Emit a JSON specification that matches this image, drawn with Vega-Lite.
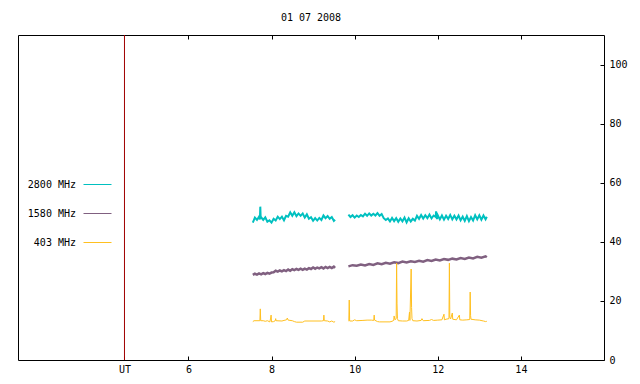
{
  "$schema": "https://vega.github.io/schema/vega-lite/v6.json",
  "width": 586,
  "height": 325,
  "autosize": {"type": "none"},
  "padding": {"left": 18, "top": 35, "right": 36, "bottom": 24},
  "background": "white",
  "title": {"text": "01 07 2008", "font": "DejaVu Sans Mono", "fontSize": 10, "fontWeight": "normal", "color": "black", "offset": 12},
  "config": {
    "view": {"stroke": "black", "strokeWidth": 1},
    "font": "DejaVu Sans Mono",
    "axis": {"labelFont": "DejaVu Sans Mono", "labelFontSize": 10, "labelColor": "black", "tickColor": "black", "grid": false, "domain": false, "title": null}
  },
  "datasets": {
    "ut": [{"t": 4.462}],
    "lines": [
      {"s": "2800", "g": 1, "t": 7.55, "v": 46.5}, {"s": "2800", "g": 1, "t": 7.60, "v": 48.2}, {"s": "2800", "g": 1, "t": 7.65, "v": 47.4}, {"s": "2800", "g": 1, "t": 7.70, "v": 48.5}, {"s": "2800", "g": 1, "t": 7.72, "v": 47.6}, {"s": "2800", "g": 1, "t": 7.73, "v": 51.9}, {"s": "2800", "g": 1, "t": 7.74, "v": 47.8}, {"s": "2800", "g": 1, "t": 7.75, "v": 48.3}, {"s": "2800", "g": 1, "t": 7.80, "v": 47.4}, {"s": "2800", "g": 1, "t": 7.85, "v": 48.3}, {"s": "2800", "g": 1, "t": 7.90, "v": 46.8}, {"s": "2800", "g": 1, "t": 7.95, "v": 47.3}, {"s": "2800", "g": 1, "t": 8.00, "v": 46.5}, {"s": "2800", "g": 1, "t": 8.05, "v": 47.8}, {"s": "2800", "g": 1, "t": 8.10, "v": 47.2}, {"s": "2800", "g": 1, "t": 8.15, "v": 48.5}, {"s": "2800", "g": 1, "t": 8.20, "v": 47.7}, {"s": "2800", "g": 1, "t": 8.25, "v": 48.5}, {"s": "2800", "g": 1, "t": 8.30, "v": 47.3}, {"s": "2800", "g": 1, "t": 8.35, "v": 48.8}, {"s": "2800", "g": 1, "t": 8.40, "v": 48.5}, {"s": "2800", "g": 1, "t": 8.45, "v": 50.0}, {"s": "2800", "g": 1, "t": 8.50, "v": 48.8}, {"s": "2800", "g": 1, "t": 8.55, "v": 50.0}, {"s": "2800", "g": 1, "t": 8.60, "v": 48.7}, {"s": "2800", "g": 1, "t": 8.65, "v": 49.6}, {"s": "2800", "g": 1, "t": 8.70, "v": 48.8}, {"s": "2800", "g": 1, "t": 8.75, "v": 49.6}, {"s": "2800", "g": 1, "t": 8.80, "v": 48.2}, {"s": "2800", "g": 1, "t": 8.85, "v": 49.3}, {"s": "2800", "g": 1, "t": 8.90, "v": 47.8}, {"s": "2800", "g": 1, "t": 8.95, "v": 48.3}, {"s": "2800", "g": 1, "t": 9.00, "v": 47.1}, {"s": "2800", "g": 1, "t": 9.05, "v": 48.0}, {"s": "2800", "g": 1, "t": 9.10, "v": 47.2}, {"s": "2800", "g": 1, "t": 9.15, "v": 48.1}, {"s": "2800", "g": 1, "t": 9.20, "v": 47.4}, {"s": "2800", "g": 1, "t": 9.25, "v": 48.9}, {"s": "2800", "g": 1, "t": 9.30, "v": 48.0}, {"s": "2800", "g": 1, "t": 9.35, "v": 48.7}, {"s": "2800", "g": 1, "t": 9.40, "v": 47.8}, {"s": "2800", "g": 1, "t": 9.45, "v": 48.4}, {"s": "2800", "g": 1, "t": 9.50, "v": 47.1}, {"s": "2800", "g": 1, "t": 9.53, "v": 47.5},
      {"s": "2800", "g": 2, "t": 9.85, "v": 49.2}, {"s": "2800", "g": 2, "t": 9.90, "v": 48.4}, {"s": "2800", "g": 2, "t": 9.95, "v": 49.0}, {"s": "2800", "g": 2, "t": 10.00, "v": 48.2}, {"s": "2800", "g": 2, "t": 10.05, "v": 48.9}, {"s": "2800", "g": 2, "t": 10.10, "v": 48.4}, {"s": "2800", "g": 2, "t": 10.15, "v": 49.1}, {"s": "2800", "g": 2, "t": 10.20, "v": 48.6}, {"s": "2800", "g": 2, "t": 10.25, "v": 49.5}, {"s": "2800", "g": 2, "t": 10.30, "v": 48.8}, {"s": "2800", "g": 2, "t": 10.35, "v": 49.6}, {"s": "2800", "g": 2, "t": 10.40, "v": 48.9}, {"s": "2800", "g": 2, "t": 10.45, "v": 49.5}, {"s": "2800", "g": 2, "t": 10.50, "v": 48.9}, {"s": "2800", "g": 2, "t": 10.55, "v": 49.7}, {"s": "2800", "g": 2, "t": 10.60, "v": 48.8}, {"s": "2800", "g": 2, "t": 10.65, "v": 49.4}, {"s": "2800", "g": 2, "t": 10.70, "v": 48.0}, {"s": "2800", "g": 2, "t": 10.75, "v": 47.4}, {"s": "2800", "g": 2, "t": 10.80, "v": 47.9}, {"s": "2800", "g": 2, "t": 10.85, "v": 46.9}, {"s": "2800", "g": 2, "t": 10.90, "v": 48.1}, {"s": "2800", "g": 2, "t": 10.95, "v": 47.0}, {"s": "2800", "g": 2, "t": 11.00, "v": 48.0}, {"s": "2800", "g": 2, "t": 11.05, "v": 46.8}, {"s": "2800", "g": 2, "t": 11.10, "v": 47.9}, {"s": "2800", "g": 2, "t": 11.15, "v": 46.9}, {"s": "2800", "g": 2, "t": 11.20, "v": 48.2}, {"s": "2800", "g": 2, "t": 11.25, "v": 46.6}, {"s": "2800", "g": 2, "t": 11.30, "v": 48.0}, {"s": "2800", "g": 2, "t": 11.35, "v": 46.9}, {"s": "2800", "g": 2, "t": 11.40, "v": 47.8}, {"s": "2800", "g": 2, "t": 11.45, "v": 47.2}, {"s": "2800", "g": 2, "t": 11.50, "v": 48.8}, {"s": "2800", "g": 2, "t": 11.55, "v": 47.8}, {"s": "2800", "g": 2, "t": 11.60, "v": 49.1}, {"s": "2800", "g": 2, "t": 11.65, "v": 47.9}, {"s": "2800", "g": 2, "t": 11.70, "v": 49.0}, {"s": "2800", "g": 2, "t": 11.75, "v": 48.0}, {"s": "2800", "g": 2, "t": 11.80, "v": 49.2}, {"s": "2800", "g": 2, "t": 11.85, "v": 47.9}, {"s": "2800", "g": 2, "t": 11.90, "v": 48.9}, {"s": "2800", "g": 2, "t": 11.95, "v": 48.4}, {"s": "2800", "g": 2, "t": 11.96, "v": 50.3}, {"s": "2800", "g": 2, "t": 11.98, "v": 47.7}, {"s": "2800", "g": 2, "t": 12.00, "v": 49.0}, {"s": "2800", "g": 2, "t": 12.05, "v": 47.6}, {"s": "2800", "g": 2, "t": 12.10, "v": 48.9}, {"s": "2800", "g": 2, "t": 12.15, "v": 47.5}, {"s": "2800", "g": 2, "t": 12.20, "v": 48.8}, {"s": "2800", "g": 2, "t": 12.25, "v": 47.7}, {"s": "2800", "g": 2, "t": 12.30, "v": 49.1}, {"s": "2800", "g": 2, "t": 12.35, "v": 47.6}, {"s": "2800", "g": 2, "t": 12.40, "v": 48.8}, {"s": "2800", "g": 2, "t": 12.45, "v": 47.6}, {"s": "2800", "g": 2, "t": 12.50, "v": 48.9}, {"s": "2800", "g": 2, "t": 12.55, "v": 47.3}, {"s": "2800", "g": 2, "t": 12.60, "v": 48.5}, {"s": "2800", "g": 2, "t": 12.65, "v": 47.1}, {"s": "2800", "g": 2, "t": 12.70, "v": 48.7}, {"s": "2800", "g": 2, "t": 12.75, "v": 47.0}, {"s": "2800", "g": 2, "t": 12.80, "v": 48.4}, {"s": "2800", "g": 2, "t": 12.85, "v": 47.2}, {"s": "2800", "g": 2, "t": 12.90, "v": 49.0}, {"s": "2800", "g": 2, "t": 12.95, "v": 47.6}, {"s": "2800", "g": 2, "t": 13.00, "v": 49.0}, {"s": "2800", "g": 2, "t": 13.05, "v": 47.5}, {"s": "2800", "g": 2, "t": 13.10, "v": 48.9}, {"s": "2800", "g": 2, "t": 13.15, "v": 47.6}, {"s": "2800", "g": 2, "t": 13.18, "v": 48.5},
      {"s": "1580", "g": 1, "t": 7.55, "v": 28.8}, {"s": "1580", "g": 1, "t": 7.60, "v": 29.2}, {"s": "1580", "g": 1, "t": 7.65, "v": 28.9}, {"s": "1580", "g": 1, "t": 7.70, "v": 29.3}, {"s": "1580", "g": 1, "t": 7.75, "v": 29.0}, {"s": "1580", "g": 1, "t": 7.80, "v": 29.4}, {"s": "1580", "g": 1, "t": 7.85, "v": 29.1}, {"s": "1580", "g": 1, "t": 7.90, "v": 29.5}, {"s": "1580", "g": 1, "t": 7.95, "v": 29.2}, {"s": "1580", "g": 1, "t": 8.00, "v": 29.6}, {"s": "1580", "g": 1, "t": 8.05, "v": 29.7}, {"s": "1580", "g": 1, "t": 8.10, "v": 30.2}, {"s": "1580", "g": 1, "t": 8.15, "v": 29.9}, {"s": "1580", "g": 1, "t": 8.20, "v": 30.3}, {"s": "1580", "g": 1, "t": 8.25, "v": 30.0}, {"s": "1580", "g": 1, "t": 8.30, "v": 30.4}, {"s": "1580", "g": 1, "t": 8.35, "v": 30.1}, {"s": "1580", "g": 1, "t": 8.40, "v": 30.6}, {"s": "1580", "g": 1, "t": 8.45, "v": 30.2}, {"s": "1580", "g": 1, "t": 8.50, "v": 30.7}, {"s": "1580", "g": 1, "t": 8.55, "v": 30.4}, {"s": "1580", "g": 1, "t": 8.60, "v": 30.8}, {"s": "1580", "g": 1, "t": 8.65, "v": 30.5}, {"s": "1580", "g": 1, "t": 8.70, "v": 30.9}, {"s": "1580", "g": 1, "t": 8.75, "v": 30.5}, {"s": "1580", "g": 1, "t": 8.80, "v": 30.9}, {"s": "1580", "g": 1, "t": 8.85, "v": 30.6}, {"s": "1580", "g": 1, "t": 8.90, "v": 31.1}, {"s": "1580", "g": 1, "t": 8.95, "v": 30.8}, {"s": "1580", "g": 1, "t": 9.00, "v": 31.3}, {"s": "1580", "g": 1, "t": 9.05, "v": 30.9}, {"s": "1580", "g": 1, "t": 9.10, "v": 31.3}, {"s": "1580", "g": 1, "t": 9.15, "v": 31.0}, {"s": "1580", "g": 1, "t": 9.20, "v": 31.4}, {"s": "1580", "g": 1, "t": 9.25, "v": 31.0}, {"s": "1580", "g": 1, "t": 9.30, "v": 31.5}, {"s": "1580", "g": 1, "t": 9.35, "v": 31.1}, {"s": "1580", "g": 1, "t": 9.40, "v": 31.5}, {"s": "1580", "g": 1, "t": 9.45, "v": 31.1}, {"s": "1580", "g": 1, "t": 9.50, "v": 31.6}, {"s": "1580", "g": 1, "t": 9.53, "v": 31.2},
      {"s": "1580", "g": 2, "t": 9.85, "v": 31.7}, {"s": "1580", "g": 2, "t": 9.95, "v": 32.1}, {"s": "1580", "g": 2, "t": 10.05, "v": 31.9}, {"s": "1580", "g": 2, "t": 10.15, "v": 32.3}, {"s": "1580", "g": 2, "t": 10.25, "v": 32.0}, {"s": "1580", "g": 2, "t": 10.35, "v": 32.5}, {"s": "1580", "g": 2, "t": 10.45, "v": 32.2}, {"s": "1580", "g": 2, "t": 10.55, "v": 32.7}, {"s": "1580", "g": 2, "t": 10.65, "v": 32.4}, {"s": "1580", "g": 2, "t": 10.75, "v": 32.9}, {"s": "1580", "g": 2, "t": 10.85, "v": 32.6}, {"s": "1580", "g": 2, "t": 10.95, "v": 33.1}, {"s": "1580", "g": 2, "t": 11.05, "v": 32.8}, {"s": "1580", "g": 2, "t": 11.15, "v": 33.3}, {"s": "1580", "g": 2, "t": 11.25, "v": 33.0}, {"s": "1580", "g": 2, "t": 11.35, "v": 33.4}, {"s": "1580", "g": 2, "t": 11.45, "v": 33.2}, {"s": "1580", "g": 2, "t": 11.55, "v": 33.6}, {"s": "1580", "g": 2, "t": 11.65, "v": 33.3}, {"s": "1580", "g": 2, "t": 11.75, "v": 33.8}, {"s": "1580", "g": 2, "t": 11.85, "v": 33.5}, {"s": "1580", "g": 2, "t": 11.95, "v": 34.0}, {"s": "1580", "g": 2, "t": 12.05, "v": 33.7}, {"s": "1580", "g": 2, "t": 12.15, "v": 34.2}, {"s": "1580", "g": 2, "t": 12.25, "v": 33.9}, {"s": "1580", "g": 2, "t": 12.35, "v": 34.3}, {"s": "1580", "g": 2, "t": 12.45, "v": 34.0}, {"s": "1580", "g": 2, "t": 12.55, "v": 34.5}, {"s": "1580", "g": 2, "t": 12.65, "v": 34.2}, {"s": "1580", "g": 2, "t": 12.75, "v": 34.7}, {"s": "1580", "g": 2, "t": 12.85, "v": 34.4}, {"s": "1580", "g": 2, "t": 12.95, "v": 34.9}, {"s": "1580", "g": 2, "t": 13.05, "v": 34.6}, {"s": "1580", "g": 2, "t": 13.15, "v": 35.1}, {"s": "1580", "g": 2, "t": 13.18, "v": 34.8},
      {"s": "403", "g": 1, "t": 7.55, "v": 13.0}, {"s": "403", "g": 1, "t": 7.58, "v": 13.3}, {"s": "403", "g": 1, "t": 7.72, "v": 13.3}, {"s": "403", "g": 1, "t": 7.73, "v": 17.3}, {"s": "403", "g": 1, "t": 7.74, "v": 13.3}, {"s": "403", "g": 1, "t": 7.80, "v": 13.3}, {"s": "403", "g": 1, "t": 7.85, "v": 13.1}, {"s": "403", "g": 1, "t": 7.90, "v": 13.3}, {"s": "403", "g": 1, "t": 7.96, "v": 12.9}, {"s": "403", "g": 1, "t": 7.98, "v": 14.2}, {"s": "403", "g": 1, "t": 7.99, "v": 15.2}, {"s": "403", "g": 1, "t": 8.00, "v": 12.9}, {"s": "403", "g": 1, "t": 8.05, "v": 13.0}, {"s": "403", "g": 1, "t": 8.09, "v": 13.3}, {"s": "403", "g": 1, "t": 8.10, "v": 14.0}, {"s": "403", "g": 1, "t": 8.11, "v": 13.3}, {"s": "403", "g": 1, "t": 8.25, "v": 13.2}, {"s": "403", "g": 1, "t": 8.30, "v": 13.4}, {"s": "403", "g": 1, "t": 8.36, "v": 13.6}, {"s": "403", "g": 1, "t": 8.38, "v": 14.2}, {"s": "403", "g": 1, "t": 8.40, "v": 13.5}, {"s": "403", "g": 1, "t": 8.50, "v": 13.3}, {"s": "403", "g": 1, "t": 8.55, "v": 13.0}, {"s": "403", "g": 1, "t": 8.60, "v": 12.8}, {"s": "403", "g": 1, "t": 8.75, "v": 12.8}, {"s": "403", "g": 1, "t": 8.80, "v": 13.2}, {"s": "403", "g": 1, "t": 9.20, "v": 13.2}, {"s": "403", "g": 1, "t": 9.25, "v": 13.3}, {"s": "403", "g": 1, "t": 9.26, "v": 15.2}, {"s": "403", "g": 1, "t": 9.27, "v": 13.3}, {"s": "403", "g": 1, "t": 9.35, "v": 13.2}, {"s": "403", "g": 1, "t": 9.40, "v": 12.9}, {"s": "403", "g": 1, "t": 9.45, "v": 13.2}, {"s": "403", "g": 1, "t": 9.50, "v": 12.8}, {"s": "403", "g": 1, "t": 9.53, "v": 13.0},
      {"s": "403", "g": 2, "t": 9.85, "v": 13.2}, {"s": "403", "g": 2, "t": 9.86, "v": 13.3}, {"s": "403", "g": 2, "t": 9.87, "v": 20.3}, {"s": "403", "g": 2, "t": 9.88, "v": 13.2}, {"s": "403", "g": 2, "t": 9.95, "v": 13.2}, {"s": "403", "g": 2, "t": 10.00, "v": 13.6}, {"s": "403", "g": 2, "t": 10.05, "v": 13.3}, {"s": "403", "g": 2, "t": 10.20, "v": 13.4}, {"s": "403", "g": 2, "t": 10.30, "v": 13.5}, {"s": "403", "g": 2, "t": 10.40, "v": 13.5}, {"s": "403", "g": 2, "t": 10.46, "v": 13.4}, {"s": "403", "g": 2, "t": 10.47, "v": 15.2}, {"s": "403", "g": 2, "t": 10.48, "v": 13.5}, {"s": "403", "g": 2, "t": 10.55, "v": 13.0}, {"s": "403", "g": 2, "t": 10.60, "v": 12.9}, {"s": "403", "g": 2, "t": 10.85, "v": 12.9}, {"s": "403", "g": 2, "t": 10.90, "v": 13.1}, {"s": "403", "g": 2, "t": 10.94, "v": 13.4}, {"s": "403", "g": 2, "t": 10.95, "v": 14.9}, {"s": "403", "g": 2, "t": 10.97, "v": 13.6}, {"s": "403", "g": 2, "t": 10.99, "v": 13.8}, {"s": "403", "g": 2, "t": 11.00, "v": 14.2}, {"s": "403", "g": 2, "t": 11.01, "v": 32.8}, {"s": "403", "g": 2, "t": 11.02, "v": 19.0}, {"s": "403", "g": 2, "t": 11.03, "v": 14.0}, {"s": "403", "g": 2, "t": 11.05, "v": 13.3}, {"s": "403", "g": 2, "t": 11.15, "v": 13.2}, {"s": "403", "g": 2, "t": 11.25, "v": 13.2}, {"s": "403", "g": 2, "t": 11.30, "v": 13.4}, {"s": "403", "g": 2, "t": 11.32, "v": 16.2}, {"s": "403", "g": 2, "t": 11.33, "v": 13.4}, {"s": "403", "g": 2, "t": 11.36, "v": 30.8}, {"s": "403", "g": 2, "t": 11.37, "v": 17.8}, {"s": "403", "g": 2, "t": 11.38, "v": 14.0}, {"s": "403", "g": 2, "t": 11.40, "v": 13.3}, {"s": "403", "g": 2, "t": 11.50, "v": 13.2}, {"s": "403", "g": 2, "t": 11.60, "v": 13.4}, {"s": "403", "g": 2, "t": 11.62, "v": 14.0}, {"s": "403", "g": 2, "t": 11.65, "v": 13.3}, {"s": "403", "g": 2, "t": 11.80, "v": 13.4}, {"s": "403", "g": 2, "t": 11.85, "v": 13.7}, {"s": "403", "g": 2, "t": 11.90, "v": 13.4}, {"s": "403", "g": 2, "t": 12.00, "v": 13.5}, {"s": "403", "g": 2, "t": 12.10, "v": 13.6}, {"s": "403", "g": 2, "t": 12.15, "v": 15.5}, {"s": "403", "g": 2, "t": 12.16, "v": 13.6}, {"s": "403", "g": 2, "t": 12.20, "v": 13.8}, {"s": "403", "g": 2, "t": 12.27, "v": 14.0}, {"s": "403", "g": 2, "t": 12.28, "v": 32.8}, {"s": "403", "g": 2, "t": 12.29, "v": 14.5}, {"s": "403", "g": 2, "t": 12.31, "v": 13.9}, {"s": "403", "g": 2, "t": 12.35, "v": 15.9}, {"s": "403", "g": 2, "t": 12.36, "v": 13.8}, {"s": "403", "g": 2, "t": 12.45, "v": 13.6}, {"s": "403", "g": 2, "t": 12.52, "v": 15.2}, {"s": "403", "g": 2, "t": 12.53, "v": 13.6}, {"s": "403", "g": 2, "t": 12.60, "v": 13.5}, {"s": "403", "g": 2, "t": 12.70, "v": 13.6}, {"s": "403", "g": 2, "t": 12.77, "v": 13.7}, {"s": "403", "g": 2, "t": 12.78, "v": 23.0}, {"s": "403", "g": 2, "t": 12.79, "v": 15.0}, {"s": "403", "g": 2, "t": 12.80, "v": 13.8}, {"s": "403", "g": 2, "t": 12.90, "v": 13.6}, {"s": "403", "g": 2, "t": 13.00, "v": 13.5}, {"s": "403", "g": 2, "t": 13.10, "v": 13.2}, {"s": "403", "g": 2, "t": 13.15, "v": 13.0}, {"s": "403", "g": 2, "t": 13.18, "v": 13.1}
    ]
  },
  "layer": [
    {
      "data": {"name": "ut"},
      "mark": {"type": "rule", "color": "#A00000", "strokeWidth": 1},
      "encoding": {
        "x": {"field": "t", "type": "quantitative", "scale": {"domain": [1.9, 16], "nice": false, "zero": false},
          "axis": {"orient": "top", "values": [6, 8, 10, 12, 14], "labels": false, "tickSize": -4}}
      }
    },
    {
      "data": {"name": "lines"},
      "transform": [{"filter": "datum.s == '2800'"}],
      "mark": {"type": "line", "strokeWidth": 2},
      "encoding": {
        "x": {"field": "t", "type": "quantitative", "scale": {"domain": [1.9, 16], "nice": false, "zero": false},
          "axis": {"orient": "bottom", "values": [4.462, 6, 8, 10, 12, 14], "labelExpr": "datum.value < 5 ? 'UT' : datum.label", "tickSize": -4, "labelPadding": 8}},
        "y": {"field": "v", "type": "quantitative", "scale": {"domain": [0, 110], "nice": false, "zero": true},
          "axis": {"orient": "right", "values": [0, 20, 40, 60, 80, 100], "tickSize": -4, "labelPadding": 9}},
        "color": {"field": "s", "type": "nominal",
          "scale": {"domain": ["2800", "1580", "403"], "range": ["#00C0C0", "#806080", "#FFC020"]},
          "legend": {"orient": "none", "legendX": 65, "legendY": 135, "title": null, "symbolType": "stroke", "symbolSize": 784, "symbolStrokeWidth": 1, "labelAlign": "right", "labelOffset": -36, "rowPadding": 9, "labelFont": "DejaVu Sans Mono", "labelFontSize": 10, "labelColor": "black", "labelExpr": "datum.label + ' MHz'"}},
        "detail": {"field": "g", "type": "nominal"}
      }
    },
    {
      "data": {"name": "lines"},
      "transform": [{"filter": "datum.s == '1580'"}],
      "mark": {"type": "line", "strokeWidth": 2.5},
      "encoding": {
        "x": {"field": "t", "type": "quantitative", "scale": {"domain": [1.9, 16], "nice": false, "zero": false}, "axis": null},
        "y": {"field": "v", "type": "quantitative", "scale": {"domain": [0, 110], "nice": false, "zero": true}},
        "color": {"field": "s", "type": "nominal"},
        "detail": {"field": "g", "type": "nominal"}
      }
    },
    {
      "data": {"name": "lines"},
      "transform": [{"filter": "datum.s == '403'"}],
      "mark": {"type": "line", "strokeWidth": 1},
      "encoding": {
        "x": {"field": "t", "type": "quantitative", "scale": {"domain": [1.9, 16], "nice": false, "zero": false}, "axis": null},
        "y": {"field": "v", "type": "quantitative", "scale": {"domain": [0, 110], "nice": false, "zero": true}},
        "color": {"field": "s", "type": "nominal"},
        "detail": {"field": "g", "type": "nominal"}
      }
    }
  ],
  "resolve": {"axis": {"x": "independent"}}
}
